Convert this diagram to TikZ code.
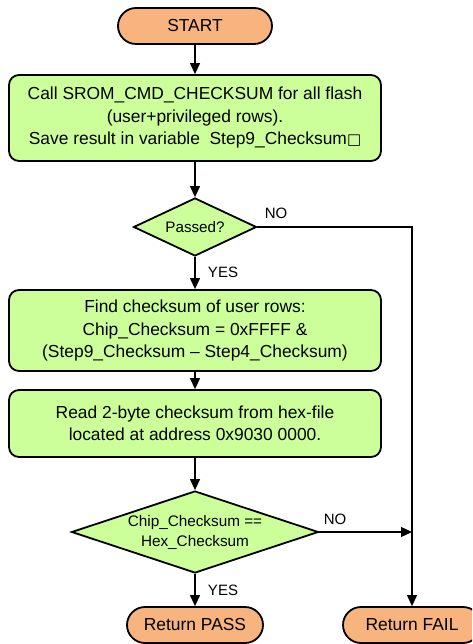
\documentclass[tikz,border=0pt]{standalone}
\usepackage{fontspec}
\setmainfont{Liberation Sans}
\newfontfamily\symfont{DejaVu Sans}
\usetikzlibrary{shapes.geometric,arrows.meta}
\definecolor{termfill}{RGB}{247,180,126}
\definecolor{procfill}{RGB}{204,255,153}
\begin{document}
\begin{tikzpicture}[x=1pt,y=-1pt,
  txt/.style={font=\fontsize{17.4}{22.5}\selectfont, align=center},
  term/.style={txt, draw, line width=1.8pt, fill=termfill, rounded corners=18pt, minimum height=36pt, inner sep=0pt},
  proc/.style={txt, draw, line width=1.8pt, fill=procfill, rounded corners=10pt, minimum width=372pt, inner sep=0pt},
  dec/.style={txt, draw, line width=1.8pt, fill=procfill, diamond, inner sep=0pt},
  arr/.style={line width=1.2pt, -{Triangle[length=11pt,width=10pt]}},
  lbl/.style={font=\fontsize{15}{17}\selectfont}]
\useasboundingbox (0,0) rectangle (472,644);
\clip (0,0) rectangle (472,644);
\node[term, minimum width=154pt] (start) at (195,26) {START};
\node[proc, minimum height=86pt] (box1) at (195,118) {Call SROM\_CMD\_CHECKSUM for all flash\\(user+privileged rows).\\Save result in variable \ Step9\_Checksum{\symfont\fontsize{15}{15}\selectfont □}};
\node[dec, minimum width=123pt, minimum height=58pt, aspect=2.1, font=\fontsize{15.2}{18}\selectfont] (d1) at (195,227) {Passed?};
\node[proc, minimum height=81pt] (box2) at (195,330.5) {Find checksum of user rows:\\Chip\_Checksum = 0xFFFF \&\\(Step9\_Checksum – Step4\_Checksum)};
\node[proc, minimum height=67pt] (box3) at (195,423.5) {Read 2-byte checksum from hex-file\\located at address 0x9030 0000.};
\node[dec, minimum width=247pt, minimum height=82pt, aspect=3, font=\fontsize{15.3}{20}\selectfont] (d2) at (195,532) {Chip\_Checksum ==\\Hex\_Checksum};
\node[term, minimum width=136pt] (pass) at (195,625) {Return PASS};
\node[term, minimum width=138pt] (fail) at (412,625) {Return FAIL};
\coordinate (j) at (412,532);
\draw[arr] (start) -- (box1);
\draw[arr] (box1) -- (d1);
\draw[arr] (d1) -- (box2);
\draw[arr] (box2) -- (box3);
\draw[arr] (box3) -- (d2);
\draw[arr] (d2) -- (pass);
\draw[arr] (d1.east) -| (fail.north);
\draw[arr] (d2.east) -- (j);
\node[lbl] (no1) at (276,213) {NO};
\node[lbl] (yes1) at (223,272) {YES};
\node[lbl] (no2) at (335,519) {NO};
\node[lbl] (yes2) at (223,590) {YES};
\end{tikzpicture}
\end{document}
